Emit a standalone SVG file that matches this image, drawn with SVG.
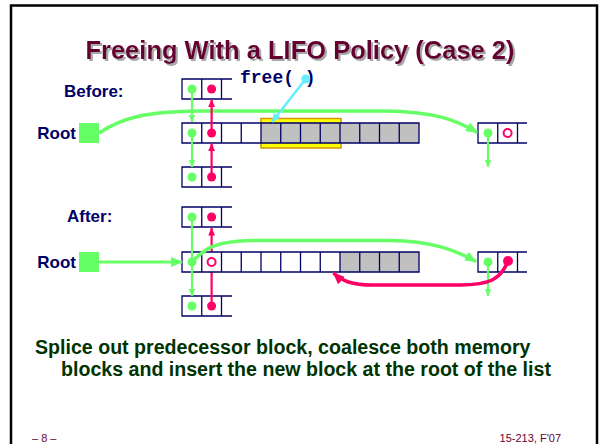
<svg xmlns="http://www.w3.org/2000/svg" width="600" height="444" viewBox="0 0 600 444">
<defs>
<filter id="sh" x="-5%" y="-20%" width="110%" height="150%">
<feOffset in="SourceAlpha" dx="2" dy="2" result="o"/>
<feFlood flood-color="#a8a8a8"/>
<feComposite in2="o" operator="in" result="s"/>
<feMerge><feMergeNode in="s"/><feMergeNode in="SourceGraphic"/></feMerge>
</filter>
<marker id="ag" markerUnits="userSpaceOnUse" markerWidth="8" markerHeight="8" viewBox="0 0 8 8" refX="7.5" refY="4" orient="auto"><path d="M0,0.6 L8,4 L0,7.4 z" fill="#66ff66"/></marker>
<marker id="ar" markerUnits="userSpaceOnUse" markerWidth="8" markerHeight="8" viewBox="0 0 8 8" refX="7.5" refY="4" orient="auto"><path d="M0,0.6 L8,4 L0,7.4 z" fill="#ff0066"/></marker>
<marker id="ac" markerUnits="userSpaceOnUse" markerWidth="9" markerHeight="9" viewBox="0 0 9 9" refX="8.5" refY="4.5" orient="auto"><path d="M0,0.5 L9,4.5 L0,8.5 z" fill="#66eeff"/></marker>
<marker id="agL" markerUnits="userSpaceOnUse" markerWidth="12" markerHeight="12" viewBox="0 0 12 12" refX="11" refY="6" orient="auto"><path d="M0,1 L12,6 L0,11 z" fill="#66ff66"/></marker>
<marker id="arL" markerUnits="userSpaceOnUse" markerWidth="12" markerHeight="12" viewBox="0 0 12 12" refX="11" refY="6" orient="auto"><path d="M0,1 L12,6 L0,11 z" fill="#ff0066"/></marker>
</defs>
<style>
.frame{fill:none;stroke:#000;stroke-width:2.5}
.title{font-family:"Liberation Sans",Arial,sans-serif;font-weight:bold;font-size:25.5px;text-anchor:middle}
.lbl{font-family:"Liberation Sans",Arial,sans-serif;font-weight:bold;font-size:17px;fill:#000066}
.code{font-family:"Liberation Mono","Courier New",monospace;font-weight:bold;font-size:18px;fill:#000066}
.note{font-family:"Liberation Sans",Arial,sans-serif;font-weight:bold;font-size:19.6px;fill:#003300}
.foot{font-family:"Liberation Sans",Arial,sans-serif;font-size:11px;fill:#660033}
.cellbg{fill:#fff}
.graybg{fill:#c0c0c0}
.edge{fill:none;stroke:#000066;stroke-width:1.3}
.root{fill:#66ff66}
.gd{fill:#66ff66}
.rd{fill:#ff0066}
.rh{fill:#fff;stroke:#ff0066;stroke-width:2}
.g{fill:none;stroke:#66ff66;stroke-width:2.2}
.r{fill:none;stroke:#ff0066;stroke-width:2.2}
.gt{fill:none;stroke:#66ff66;stroke-width:3.5}
.rt{fill:none;stroke:#ff0066;stroke-width:3.5}
.c{fill:none;stroke:#66eeff;stroke-width:2.5}
</style>
<rect class="frame" x="11" y="5.5" width="586" height="460"/>
<g id="title">
<text class="title" x="300" y="59" fill="#660033" filter="url(#sh)">Freeing With a LIFO Policy (Case 2)</text>
</g>
<g id="labels">
<text class="lbl" x="64" y="97">Before:</text>
<text class="lbl" x="76" y="139" text-anchor="end">Root</text>
<text class="lbl" x="67" y="222">After:</text>
<text class="lbl" x="76" y="268" text-anchor="end">Root</text>
<text class="code" x="240" y="83">free( )</text>
</g>

<!-- BEFORE -->
<g id="before-root"><rect class="root" x="79" y="123" width="20" height="20"/></g>
<g id="before-top">
<path class="edge" d="M232,79 H182 V99 H232 M201.75,79 V99 M221.5,79 V99"/>
<circle class="gd" cx="192" cy="89" r="4.5"/>
<circle class="rd" cx="211.6" cy="89" r="4.5"/>
</g>
<g id="before-bottom">
<path class="edge" d="M232,167 H182 V187 H232 M201.75,167 V187 M221.5,167 V187"/>
<circle class="gd" cx="192" cy="177" r="4.5"/>
<circle class="rd" cx="211.6" cy="177" r="4.5"/>
</g>
<g id="before-middle">
<rect x="261" y="118.5" width="80" height="29.5" fill="#ffff00" stroke="#cc9900" stroke-width="1.5"/>
<rect class="cellbg" x="182" y="123" width="79" height="20"/>
<rect class="graybg" x="261" y="123" width="158" height="20"/>
<path class="edge" d="M182,123 H419 V143 H182 Z M201.75,123 V143 M221.5,123 V143 M241.25,123 V143 M261,123 V143 M280.75,123 V143 M300.5,123 V143 M320.25,123 V143 M340,123 V143 M359.75,123 V143 M379.5,123 V143 M399.25,123 V143"/>
<circle class="gd" cx="192" cy="133" r="4.5"/>
<circle class="rd" cx="211.6" cy="133" r="4.5"/>
</g>
<g id="before-right">
<path class="edge" d="M527,123 H478 V143 H527 M497.75,123 V143 M517.5,123 V143"/>
<circle class="gd" cx="488" cy="133" r="4.5"/>
<circle class="rh" cx="507.6" cy="133" r="4"/>
</g>

<!-- AFTER -->
<g id="after-root"><rect class="root" x="79" y="252" width="20" height="20"/></g>
<g id="after-top">
<path class="edge" d="M232,207 H182 V227 H232 M201.75,207 V227 M221.5,207 V227"/>
<circle class="gd" cx="192" cy="217" r="4.5"/>
<circle class="rd" cx="211.6" cy="217" r="4.5"/>
</g>
<g id="after-bottom">
<path class="edge" d="M232,296 H182 V316 H232 M201.75,296 V316 M221.5,296 V316"/>
<circle class="gd" cx="192" cy="306" r="4.5"/>
<circle class="rd" cx="211.6" cy="306" r="4.5"/>
</g>
<g id="connectors-under">
<path class="r" d="M211.6,306 V228" marker-end="url(#ar)"/>
</g>
<g id="after-middle">
<rect class="cellbg" x="182" y="252" width="158" height="20"/>
<rect class="graybg" x="340" y="252" width="79" height="20"/>
<path class="edge" d="M182,252 H419 V272 H182 Z M201.75,252 V272 M221.5,252 V272 M241.25,252 V272 M261,252 V272 M280.75,252 V272 M300.5,252 V272 M320.25,252 V272 M340,252 V272 M359.75,252 V272 M379.5,252 V272 M399.25,252 V272"/>
<circle class="rh" cx="211.6" cy="262" r="4"/>
</g>
<g id="after-right">
<path class="edge" d="M527,252 H478 V272 H527 M497.75,252 V272 M517.5,252 V272"/>
</g>

<g id="connectors">
<!-- before -->
<path class="gt" d="M99,133 C122,118 145,111.5 200,111 L385,111 C432,111.5 455,119 477,132.5" marker-end="url(#agL)"/>
<path class="g" d="M192,89 V122" marker-end="url(#ag)"/>
<path class="g" d="M192,133 V167" marker-end="url(#ag)"/>
<path class="r" d="M211.6,133 V99.5" marker-end="url(#ar)"/>
<path class="r" d="M211.6,177 V143.5" marker-end="url(#ar)"/>
<path class="g" d="M488,133 V167" marker-end="url(#ag)"/>
<path class="c" d="M305.7,79 L272,122" marker-end="url(#ac)"/>
<circle cx="305.7" cy="79" r="4.5" fill="#66eeff"/>
<!-- after -->
<path class="gt" d="M99,262 H182" marker-end="url(#agL)" style="stroke-width:3"/>
<path class="g" d="M192,217 V296" marker-end="url(#ag)"/>
<path class="gt" d="M192,262 C205,248 216,241 252,240.5 L390,240.5 C432,241 455,250 476,261.5" marker-end="url(#agL)"/>
<path class="g" d="M488,262 V296" marker-end="url(#ag)"/>
<path class="rt" d="M508,261 C501,279 490,285 460,285 L372,285 C352,285 342,281 333.5,273" marker-end="url(#arL)"/>
</g>
<g id="after-dots">
<circle class="gd" cx="192" cy="262" r="4.5"/>
<circle class="gd" cx="488" cy="262" r="4.5"/>
<circle class="rd" cx="508" cy="261" r="5"/>
</g>

<g id="note">
<text class="note" x="35" y="354">Splice out predecessor block, coalesce both memory</text>
<text class="note" x="61" y="376">blocks and insert the new block at the root of the list</text>
</g>
<g id="footer">
<text class="foot" x="32" y="442">– 8 –</text>
<text class="foot" x="561" y="442" text-anchor="end">15-213, F'07</text>
</g>
</svg>
